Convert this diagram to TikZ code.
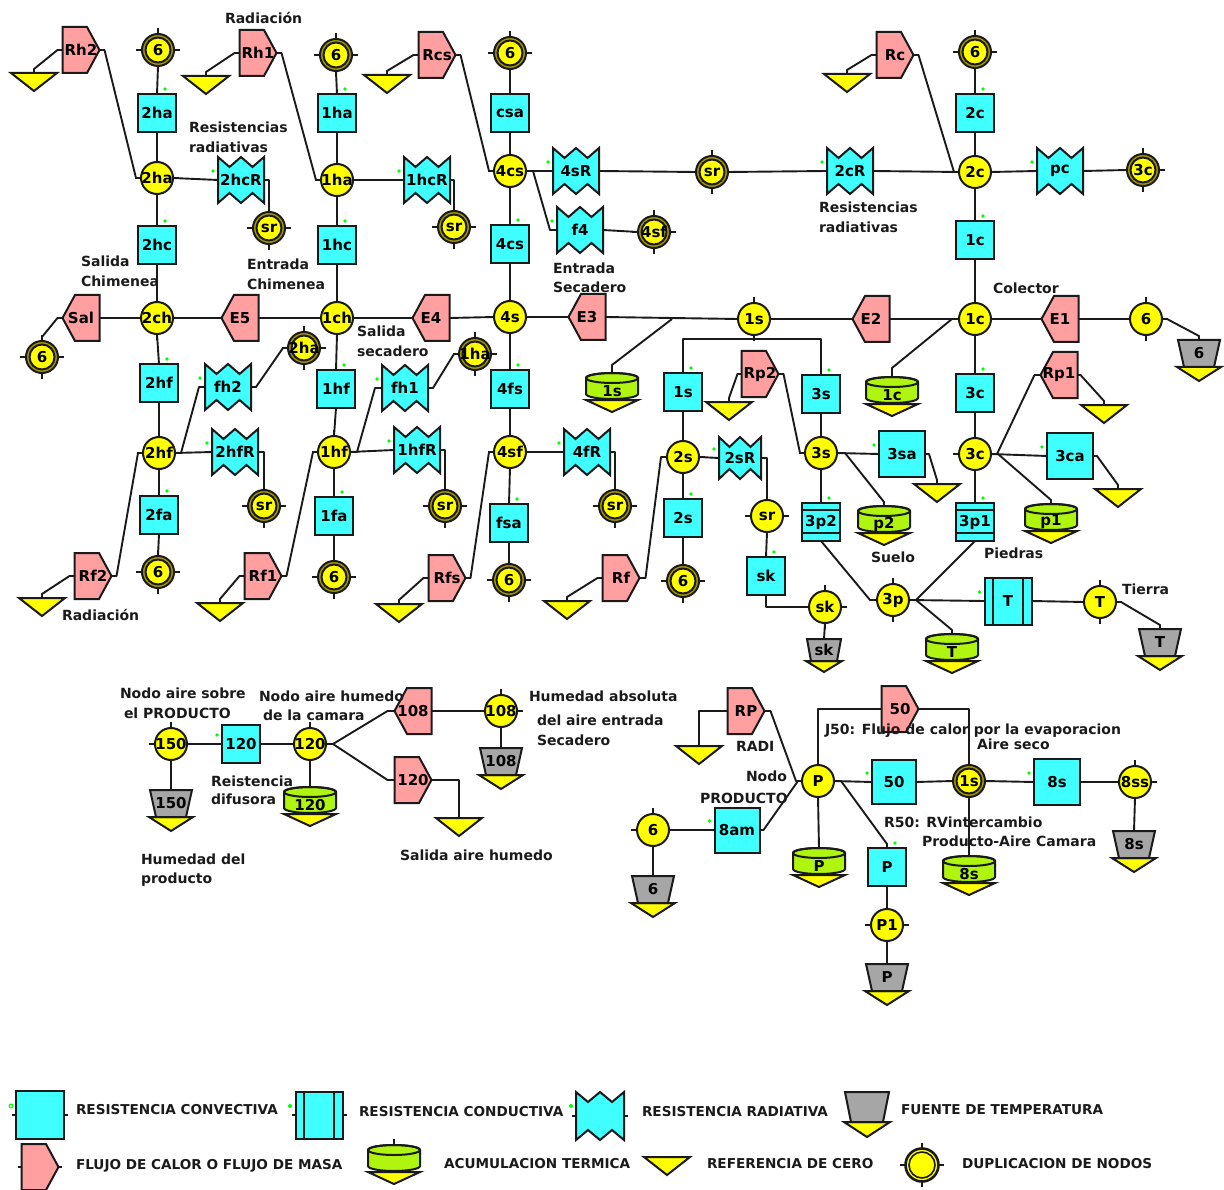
\documentclass[tikz,border=0pt]{standalone}
\usepackage{fontspec}
\setmainfont{DejaVu Sans}
\pgfdeclarelayer{bg}
\pgfsetlayers{bg,main}
\definecolor{cCy}{HTML}{40FFFF}
\definecolor{cYe}{HTML}{FFFF00}
\definecolor{cPk}{HTML}{FF9F9F}
\definecolor{cGr}{HTML}{B0F510}
\definecolor{cGy}{HTML}{A6A6A6}
\definecolor{cOl}{HTML}{A89800}
\definecolor{cLn}{HTML}{1A1A1A}
\tikzset{
 x=1pt,y=-1pt,
 wire/.style={draw=cLn,line width=1.9pt,line join=round},
 shp/.style={draw=cLn,line width=2pt,line join=miter},
 blank/.style={inner sep=0pt,outer sep=0pt,font=\fontsize{15}{17}\selectfont\bfseries},
 lbl/.style={inner sep=0pt,outer sep=0pt,anchor=west,yshift=-2pt,text=cLn,text height=10pt,text depth=3pt,font=\fontsize{14}{16}\selectfont\bfseries},
 leg/.style={inner sep=0pt,outer sep=0pt,anchor=west,yshift=-2pt,text=cLn,text height=10pt,text depth=3pt,font=\fontsize{13.6}{16}\selectfont\bfseries},
 gdot/.style={fill=green}
}
\newcount\lbc
\newcommand{\nLB}[3]{\global\advance\lbc by 1 \node[lbl] (lb\the\lbc) at (#1,#2) {#3};}
\newcommand{\nLG}[3]{\global\advance\lbc by 1 \node[leg] (lb\the\lbc) at (#1,#2) {#3};}
% circle node with ticks
\newcommand{\nTK}[1]{\begin{pgfonlayer}{bg}\draw[wire] ([xshift=-22pt]#1.center) -- ([xshift=22pt]#1.center);\draw[wire] ([yshift=-22pt]#1.center) -- ([yshift=22pt]#1.center);\end{pgfonlayer}}
\newcommand{\nCN}[4]{\node[blank,shape=circle,shp,fill=cYe,minimum size=32pt] (#1) at (#2,#3) {\makebox[0pt]{#4}};\nTK{#1}}
\newcommand{\nDP}[4]{\node[blank,shape=circle,shp,fill=cOl,minimum size=32pt] (#1) at (#2,#3) {};
 \node[blank,shape=circle,shp,fill=cYe,minimum size=25pt] (#1t) at (#2,#3) {\makebox[0pt]{#4}};\nTK{#1}}
\newcommand{\nSQ}[5][38]{\node[blank,shape=rectangle,shp,fill=cCy,minimum size=#1pt] (#2) at (#3,#4) {\makebox[0pt]{#5}};}
% conductive, lines horizontal
\newcommand{\nCH}[4]{\node[blank,shape=rectangle,shp,fill=cCy,minimum size=38pt] (#1) at (#2,#3) {\makebox[0pt]{#4}};
 \draw[shp] ([yshift=-7pt]#1.north west) -- ([yshift=-7pt]#1.north east);\draw[shp] ([yshift=8pt]#1.south west) -- ([yshift=8pt]#1.south east);}
% conductive, lines vertical
\newcommand{\nCV}[4]{\node[blank,shape=rectangle,shp,fill=cCy,minimum size=47pt] (#1) at (#2,#3) {\makebox[0pt]{#4}};
 \draw[shp] ([xshift=8pt]#1.north west) -- ([xshift=8pt]#1.south west);\draw[shp] ([xshift=-9pt]#1.north east) -- ([xshift=-9pt]#1.south east);}
\newcommand{\nFR}[4]{\begin{scope}[shift={(#2,#3)}]\draw[shp,fill=cPk] (-18.5,-23) -- (6,-23) -- (18.5,0) -- (6,23) -- (-18.5,23) -- cycle;
 \node[blank,minimum width=37pt,minimum height=46pt] (#1) at (0,0) {\makebox[0pt]{#4}};\end{scope}}
\newcommand{\nFL}[4]{\begin{scope}[shift={(#2,#3)}]\draw[shp,fill=cPk] (18.5,-23) -- (-6,-23) -- (-18.5,0) -- (-6,23) -- (18.5,23) -- cycle;
 \node[blank,minimum width=37pt,minimum height=46pt] (#1) at (0,0) {\makebox[0pt]{#4}};\end{scope}}
\newcommand{\nRD}[5][23]{\begin{scope}[shift={(#3,#4)}]\draw[shp,fill=cCy] (-#1,-#1) -- ({-#1/2},{-#1+10}) -- (0,-#1) -- ({#1/2},{-#1+10}) -- (#1,-#1) -- (#1,#1) -- ({#1/2},{#1-10}) -- (0,#1) -- ({-#1/2},{#1-10}) -- (-#1,#1) -- cycle;
 \node[blank,minimum size={2*#1*1pt}] (#2) at (0,0) {\makebox[0pt]{#5}};\end{scope}}
\newcommand{\nRF}[3]{\begin{scope}[shift={(#2,#3)}]\draw[shp,fill=cYe] (-23,0) -- (23,0) -- (0,18) -- cycle;
 \node[blank,minimum width=46pt,minimum height=18pt] (#1) at (0,9) {};\end{scope}}
% temperature source: name x ytop label halftop halfbot h halftri htri
\newcommand{\nTG}[9]{\begin{scope}[shift={(#2,#3)}]\draw[shp,fill=cYe] (-#8,#7) -- (#8,#7) -- (0,{#7+#9}) -- cycle;
 \draw[shp,fill=cGy] (-#5,0) -- (#5,0) -- (#6,#7) -- (-#6,#7) -- cycle;
 \node[blank,minimum width=2*#6*1pt,minimum height=#7*1pt] (#1) at (0,{#7/2}) {\makebox[0pt]{#4}};\end{scope}}
\newcommand{\nTP}[4]{\nTG{#1}{#2}{#3}{#4}{21}{15}{27}{22}{14}}
% accumulation: name x ytop label
\newcommand{\nAC}[4]{\begin{scope}[shift={(#2,#3)}]
 \draw[shp,fill=cYe] (-26,27) -- (26,27) -- (0,39) -- cycle;
 \draw[shp,fill=cGr] (-26,5) -- (-26,21) arc[start angle=180,end angle=360,x radius=26pt,y radius=5pt] -- (26,5) arc[start angle=0,end angle=180,x radius=26pt,y radius=5pt] -- cycle;
 \draw[shp] (0,5) ellipse [x radius=26pt,y radius=5pt];
 \node[blank,minimum width=52pt,minimum height=26pt] (#1) at (0,13) {};
 \node[blank] (#1t) at (0,18) {#4};\end{scope}}
% green dots
\newcommand{\dT}[1]{\fill[gdot] ([shift={(8pt,5pt)}]#1.north) circle (1.8pt);}
\newcommand{\dL}[1]{\fill[gdot] ([shift={(-5pt,9pt)}]#1.west) circle (1.8pt);}
% wires
\newcommand{\wH}[2]{\begin{pgfonlayer}{bg}\draw[wire] (#1.east) -- (#2.west);\end{pgfonlayer}}
\newcommand{\wV}[2]{\begin{pgfonlayer}{bg}\draw[wire] (#1.south) -- (#2.north);\end{pgfonlayer}}
\newcommand{\wEE}[3][5]{\begin{pgfonlayer}{bg}\draw[wire] (#2.east) -- ++(#1,0) -- ([xshift=-#1pt]#3.west) -- (#3.west);\end{pgfonlayer}}
\newcommand{\wEN}[3][5]{\begin{pgfonlayer}{bg}\draw[wire] (#2.east) -- ++(#1,0) -- ([yshift=4pt]#3.north) -- (#3.north);\end{pgfonlayer}}
\newcommand{\wWN}[3][5]{\begin{pgfonlayer}{bg}\draw[wire] (#2.west) -- ++(-#1,0) -- ([yshift=4pt]#3.north) -- (#3.north);\end{pgfonlayer}}
\newcommand{\wEv}[2]{\begin{pgfonlayer}{bg}\draw[wire] (#1.east) -| (#2.north);\end{pgfonlayer}}
\begin{document}
\begin{tikzpicture}
\useasboundingbox (0,0) rectangle (1224,1190);
% --- column 2
\nDP{a6}{158}{50}{6}
\nSQ{sqtha}{157}{113}{2ha}\dT{sqtha}
\nCN{ntha}{157}{178}{2ha}
\nSQ{sqthc}{157}{245}{2hc}\dT{sqthc}
\nCN{ntch}{157}{318}{2ch}
\nSQ{sqthf}{159}{383}{2hf}\dT{sqthf}
\nCN{nthf}{159}{453}{2hf}
\nSQ{sqtfa}{159}{515}{2fa}\dT{sqtfa}
\nDP{b6}{158}{572}{6}
\wV{a6}{sqtha}\wV{sqtha}{ntha}\wV{ntha}{sqthc}\wV{sqthc}{ntch}\wV{ntch}{sqthf}\wV{sqthf}{nthf}\wV{nthf}{sqtfa}\wV{sqtfa}{b6}
\nFR{frhb}{81}{50}{Rh2}\nRF{rfa}{34}{73}\wWN{frhb}{rfa}\wEE{frhb}{ntha}
\nRD{rdthc}{241}{180}{2hcR}\dL{rdthc}\wH{ntha}{rdthc}
\nDP{srA}{269}{228}{sr}\wEv{rdthc}{srA}
% --- column 1
\nDP{c6}{336}{55}{6}
\nSQ{sqoha}{337}{113}{1ha}\dT{sqoha}
\nCN{noha}{337}{180}{1ha}
\nSQ{sqohc}{337}{245}{1hc}\dT{sqohc}
\nCN{noch}{337}{318}{1ch}
\nSQ{sqohf}{336}{389}{1hf}\dT{sqohf}
\nCN{nohf}{334}{452}{1hf}
\nSQ{sqofa}{334}{516}{1fa}\dT{sqofa}
\nDP{d6}{334}{577}{6}
\wV{c6}{sqoha}\wV{sqoha}{noha}\wV{noha}{sqohc}\wV{sqohc}{noch}\wV{noch}{sqohf}\wV{sqohf}{nohf}\wV{nohf}{sqofa}\wV{sqofa}{d6}
\nFR{frha}{258}{53}{Rh1}\nRF{rfb}{206}{76}\wWN{frha}{rfb}\wEE{frha}{noha}
\nRD{rdohc}{427}{180}{1hcR}\dL{rdohc}\wH{noha}{rdohc}
\nDP{srB}{454}{227}{sr}\wEv{rdohc}{srB}
% --- column 4
\nDP{e6}{510}{53}{6}
\nSQ{sqcsa}{510}{113}{csa}
\nCN{nfcs}{510}{171}{4cs}
\nSQ{sqfcs}{510}{244}{4cs}\dT{sqfcs}
\nCN{nfs}{510}{317}{4s}
\nSQ{sqffs}{510}{389}{4fs}\dT{sqffs}
\nCN{nfsf}{510}{452}{4sf}
\nSQ{sqfsa}{509}{523}{fsa}\dT{sqfsa}
\nDP{f6}{509}{580}{6}
\wV{e6}{sqcsa}\wV{sqcsa}{nfcs}\wV{nfcs}{sqfcs}\wV{sqfcs}{nfs}\wV{nfs}{sqffs}\wV{sqffs}{nfsf}\wV{nfsf}{sqfsa}\wV{sqfsa}{f6}
\nFR{frcs}{437}{55}{Rcs}\nRF{rfc}{387}{75}\wWN{frcs}{rfc}\wEE{frcs}{nfcs}
\nRD{rdfsR}{576}{171}{4sR}\dL{rdfsR}\wH{nfcs}{rdfsR}
\nDP{srC}{712}{172}{sr}\wH{rdfsR}{srC}
\nRD{rdtcR}{850}{171}{2cR}\dL{rdtcR}\wH{srC}{rdtcR}
\nRD{rdffour}{580}{230}{f4}\dL{rdffour}\wEE[7]{nfcs}{rdffour}
\nDP{dfsf}{654}{232}{4sf}\wH{rdffour}{dfsf}
% --- column c
\nDP{g6}{975}{52}{6}
\nSQ{sqtc}{975}{113}{2c}\dT{sqtc}
\nCN{ntc}{975}{172}{2c}
\nSQ{sqoc}{975}{240}{1c}\dT{sqoc}
\nCN{noc}{975}{319}{1c}
\nSQ{sqtrc}{975}{393}{3c}\dT{sqtrc}
\nCN{ntrc}{975}{454}{3c}
\nCH{cdpo}{975}{522}{3p1}\dT{cdpo}
\wV{g6}{sqtc}\wV{sqtc}{ntc}\wV{ntc}{sqoc}\wV{sqoc}{noc}\wV{noc}{sqtrc}\wV{sqtrc}{ntrc}\wV{ntrc}{cdpo}
\nFR{frc}{895}{55}{Rc}\nRF{rfd}{847}{74}\wWN{frc}{rfd}\wEE{frc}{ntc}
\wH{rdtcR}{ntc}
\nRD{rdpc}{1060}{171}{pc}\dL{rdpc}\wH{ntc}{rdpc}
\nDP{dtrc}{1143}{170}{3c}\wH{rdpc}{dtrc}
% --- row 318
\nFL{flsal}{81}{318}{Sal}\nDP{h6}{42}{357}{6}\wWN{flsal}{h6}\wH{flsal}{ntch}
\nFL{flefi}{240}{318}{E5}\wH{ntch}{flefi}\wH{flefi}{noch}
\nFL{flefo}{431}{318}{E4}\wH{noch}{flefo}\wH{flefo}{nfs}
\nFL{flet}{587}{317}{E3}\wH{nfs}{flet}
\nCN{nos}{754}{319}{1s}\wH{flet}{nos}
\nFL{fletw}{871}{319}{E2}\wH{nos}{fletw}\wH{fletw}{noc}
\nFL{fleo}{1060}{319}{E1}\wH{noc}{fleo}
\nCN{nsix}{1146}{319}{6}\wH{fleo}{nsix}
\nTG{tsix}{1199}{340}{6}{21}{15}{27}{22}{14}\wEN{nsix}{tsix}
% accumulators on row
\coordinate (jos) at (672,319);
\nAC{acos}{612}{373}{1s}\begin{pgfonlayer}{bg}\draw[wire] (jos) -- ([yshift=8pt]acos.north) -- (acos.north);\end{pgfonlayer}
\nAC{acoc}{892}{377}{1c}\begin{pgfonlayer}{bg}\draw[wire] (noc.west) -- ++(-7,0) -- ([yshift=9pt]acoc.north) -- (acoc.north);\end{pgfonlayer}
% --- 2s / 3s
\nSQ{sqos}{683}{392}{1s}\dT{sqos}
\nSQ{sqtrs}{821}{394}{3s}\dT{sqtrs}
\coordinate (jbus) at (754,339);
\begin{pgfonlayer}{bg}\draw[wire] (sqos.north) |- (jbus) -| (sqtrs.north);\end{pgfonlayer}
\nCN{nts}{683}{457}{2s}\wV{sqos}{nts}
\nSQ{sqts}{683}{518}{2s}\dT{sqts}\wV{nts}{sqts}
\nDP{i6}{683}{581}{6}\wV{sqts}{i6}
\nRD[21]{rdtsR}{740}{458}{2sR}\dL{rdtsR}\wH{nts}{rdtsR}
\nCN{nsr}{767}{516}{sr}\wEv{rdtsR}{nsr}
\nSQ{sqsk}{766}{576}{sk}\dT{sqsk}\wV{nsr}{sqsk}
\nCN{nsk}{825}{607}{sk}
\begin{pgfonlayer}{bg}\draw[wire] (sqsk.south) |- (nsk.west);\end{pgfonlayer}
\nTG{tsk}{824}{639}{sk}{17}{13}{22}{18}{11}\wV{nsk}{tsk}
\nFR{frf}{621}{578}{Rf}\nRF{rfe}{567}{601}\wWN{frf}{rfe}\wEE[6]{frf}{nts}
\nFR{frptw}{760}{374}{Rp2}\nRF{rff}{729}{402}\wWN[4]{frptw}{rff}
\nCN{ntrs}{821}{453}{3s}\wV{sqtrs}{ntrs}\wEE{frptw}{ntrs}
\nSQ[46]{sqtsa}{902}{454}{3sa}\dL{sqtsa}\wH{ntrs}{sqtsa}
\nRF{rfg}{937}{484}\wEN[4]{sqtsa}{rfg}
\nAC{acpt}{884}{506}{p2}\wEN[8]{ntrs}{acpt}
\nCH{cdpt}{821}{522}{3p2}\dT{cdpt}\wV{ntrs}{cdpt}
\nCN{ntrp}{893}{600}{3p}
\begin{pgfonlayer}{bg}\draw[wire] (cdpt.south) -- ([xshift=-7pt]ntrp.west) -- (ntrp.west);\draw[wire] (cdpo.south) -- ([xshift=7pt]ntrp.east) -- (ntrp.east);\end{pgfonlayer}
\nCV{cdT}{1008}{601}{T}\dL{cdT}\wH{ntrp}{cdT}
\nCN{nT}{1100}{602}{T}\wH{cdT}{nT}
\nTP{tT}{1160}{629}{T}\wEN{nT}{tT}
\nAC{acT}{952}{634}{T}\wEN[7]{ntrp}{acT}
% --- 3c side
\nSQ[46]{sqtca}{1070}{456}{3ca}\dL{sqtca}\wH{ntrc}{sqtca}
\nRF{rfh}{1118}{489}\wEN[4]{sqtca}{rfh}
\nAC{acpo}{1051}{504}{p1}\wEN[7]{ntrc}{acpo}
\nFL{flrpo}{1059}{375}{Rp1}\wEE[6]{ntrc}{flrpo}
\nRF{rfi}{1104}{405}\begin{pgfonlayer}{bg}\draw[wire] ([xshift=-1pt]flrpo.east) -- ++(4,0) -- ([yshift=4pt]rfi.north) -- (rfi.north);\end{pgfonlayer}
% --- lower left of upper block
\nRD{rdfhb}{228}{387}{fh2}\dL{rdfhb}\wEE[6]{nthf}{rdfhb}
\nDP{dtha}{304}{348}{2ha}\wEE{rdfhb}{dtha}
\nRD{rdthf}{235}{452}{2hfR}\dL{rdthf}\wH{nthf}{rdthf}
\nDP{srD}{264}{506}{sr}\wEv{rdthf}{srD}
\nFR{frfb}{93}{576}{Rf2}\nRF{rfj}{42}{598}\wWN{frfb}{rfj}\wEE{frfb}{nthf}
\nFR{frfa}{263}{576}{Rf1}\nRF{rfk}{220}{603}\wWN{frfa}{rfk}\wEE{frfa}{nohf}
\nRD{rdfha}{405}{388}{fh1}\dL{rdfha}\wEE[7]{nohf}{rdfha}
\nDP{doha}{475}{354}{1ha}\wEE{rdfha}{doha}
\nRD{rdohf}{417}{450}{1hfR}\dL{rdohf}\wH{nohf}{rdohf}
\nDP{srE}{445}{506}{sr}\wEv{rdohf}{srE}
\nFR{frfs}{447}{578}{Rfs}\nRF{rfl}{399}{604}\wWN{frfs}{rfl}\wEE{frfs}{nfsf}
\nRD{rdfR}{587}{452}{4fR}\dL{rdfR}\wH{nfsf}{rdfR}
\nDP{srF}{615}{506}{sr}\wEv{rdfR}{srF}
% --- lower section left
\nCN{nots}{171}{744}{150}
\nSQ{sqotw}{241}{744}{120}\dL{sqotw}\wH{nots}{sqotw}
\nCN{notw}{310}{744}{120}\wH{sqotw}{notw}
\nTG{tots}{171}{790}{150}{21}{15}{27}{22}{14}\wV{nots}{tots}
\nAC{acotw}{310}{787}{120}\wV{notw}{acotw}
\nFL{frob}{413}{711}{108}\wEE[7]{notw}{frob}
\nFR{frot}{413}{780}{120}\wEE[7]{notw}{frot}
\nCN{nob}{501}{711}{108}\wH{frob}{nob}
\nTP{tob}{501}{748}{108}\wV{nob}{tob}
\nRF{rfm}{459}{818}
\begin{pgfonlayer}{bg}\draw[wire] (frot.east) -| (rfm.north);\end{pgfonlayer}
% --- product
\nCN{nP}{818}{781}{P}
\nFR{frRP}{746}{711}{RP}\nRF{rfn}{699}{746}
\begin{pgfonlayer}{bg}\draw[wire] (frRP.west) -| (rfn.north);\end{pgfonlayer}
\wEE[6]{frRP}{nP}
\nFR{frfz}{900}{709}{50}
\nDP{dos}{969}{781}{1s}
\begin{pgfonlayer}{bg}\draw[wire] (nP.north) |- (frfz.west);\draw[wire] (frfz.east) -| (dos.north);\end{pgfonlayer}
\nSQ[44]{sqfz}{894}{782}{50}\dL{sqfz}\wH{nP}{sqfz}\wH{sqfz}{dos}
\nSQ[46]{sqes}{1057}{782}{8s}\dL{sqes}\wH{dos}{sqes}
\nCN{ness}{1135}{782}{8ss}\wH{sqes}{ness}
\nTP{tes}{1134}{831}{8s}\wV{ness}{tes}
\nAC{aces}{969}{856}{8s}\wV{dos}{aces}
\nSQ[45]{sqeam}{737}{830}{8am}\dL{sqeam}
\nCN{nssix}{653}{830}{6}\wH{nssix}{sqeam}
\nTP{tssix}{653}{876}{6}\wV{nssix}{tssix}
\wEE[4]{sqeam}{nP}
\nAC{acP}{819}{848}{P}\wV{nP}{acP}
\nSQ{sqP}{887}{867}{P}\dT{sqP}\wEN[7]{nP}{sqP}
\nCN{nPo}{887}{925}{P1}\wV{sqP}{nPo}
\nTP{tP}{887}{964}{P}\wV{nPo}{tP}
% --- labels
\nLB{225}{18}{Radiación}
\nLB{189}{127}{Resistencias}
\nLB{189}{147}{radiativas}
\nLB{81}{261}{Salida}
\nLB{81}{281}{Chimenea}
\nLB{247}{264}{Entrada}
\nLB{247}{284}{Chimenea}
\nLB{357}{331}{Salida}
\nLB{357}{351}{secadero}
\nLB{553}{268}{Entrada}
\nLB{553}{287}{Secadero}
\nLB{819}{207}{Resistencias}
\nLB{819}{227}{radiativas}
\nLB{993}{288}{Colector}
\nLB{62}{615}{Radiación}
\nLB{871}{557}{Suelo}
\nLB{984}{553}{Piedras}
\nLB{1122}{589}{Tierra}
\nLB{120}{693}{Nodo aire sobre}
\nLB{124}{713}{el PRODUCTO}
\nLB{259}{696}{Nodo aire humedo}
\nLB{263}{715}{de la camara}
\nLB{211}{781}{Reistencia}
\nLB{211}{799}{difusora}
\nLB{529}{696}{Humedad absoluta}
\nLB{537}{720}{del aire entrada}
\nLB{537}{740}{Secadero}
\nLB{400}{855}{Salida aire humedo}
\nLB{141}{859}{Humedad del}
\nLB{141}{878}{producto}
\nLB{825}{729}{J50: Flujo de calor por la evaporacion}
\nLB{977}{744}{Aire seco}
\nLB{736}{746}{RADI}
\nLB{746}{776}{Nodo}
\nLB{700}{798}{PRODUCTO}
\nLB{884}{822}{R50: RVintercambio}
\nLB{922}{841}{Producto-Aire Camara}
% --- legend
\nSQ[48]{lgA}{40}{1115}{}
\draw[wire] (lgA.west) -- ++(-4,0);\draw[wire] (lgA.east) -- ++(4,0);
\draw[green,line width=1pt] (11,1106) circle (2pt);
\nLG{76}{1109}{RESISTENCIA CONVECTIVA}
\nCV{lgB}{319}{1115}{}
\draw[wire] (lgB.west) -- ++(-4,0);\draw[wire] (lgB.east) -- ++(4,0);
\fill[gdot] (290,1106) circle (2pt);
\nLG{359}{1111}{RESISTENCIA CONDUCTIVA}
\nRD[24]{lgC}{600}{1116}{}
\draw[wire] (lgC.west) -- ++(-4,0);\draw[wire] (lgC.east) -- ++(4,0);
\fill[gdot] (571,1106) circle (2pt);
\nLG{642}{1111}{RESISTENCIA RADIATIVA}
\nTG{lgD}{867}{1092}{}{22}{16}{30}{23}{15}
\nLG{901}{1109}{FUENTE DE TEMPERATURA}
\nFR{lgE}{40}{1167}{}
\draw[wire] (lgE.west) -- ++(-4,0);\draw[wire] (lgE.east) -- ++(3,0);
\nLG{76}{1164}{FLUJO DE CALOR O FLUJO DE MASA}
\nAC{lgF}{394}{1145}{}
\draw[wire] (lgF.north) -- ++(0,-6);
\nLG{444}{1163}{ACUMULACION TERMICA}
\nRF{lgG}{667}{1157}
\nLG{707}{1163}{REFERENCIA DE CERO}
\node[blank,shape=circle,shp,line width=2.6pt,fill=cYe,minimum size=33pt] (lgH) at (922,1165) {};
\node[blank,shape=circle,shp,line width=1.6pt,fill=cYe,minimum size=26pt] (lgHt) at (922,1165) {};
\nTK{lgH}
\nLG{962}{1163}{DUPLICACION DE NODOS}
\end{tikzpicture}
\end{document}
